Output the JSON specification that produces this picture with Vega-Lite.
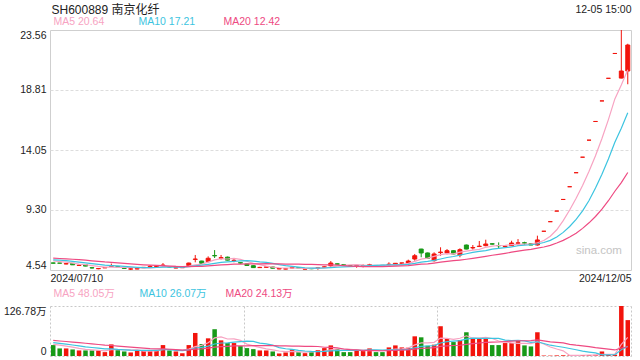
{
"$schema": "https://vega.github.io/schema/vega-lite/v6.json",
"padding": {"left": 3, "top": 2, "right": 5, "bottom": 5},
"bounds": "flush",
"spacing": 36,
"config": {"font": "Liberation Sans, Noto Sans CJK SC", "view": {"stroke": null}},
"resolve": {"scale": {"color": "independent", "x": "independent", "y": "independent"}, "legend": {"color": "independent"}},
"datasets": {"k": [
{"i":0,"o":5.10,"h":5.12,"l":5.06,"c":5.08,"v":27.7,"m5":5.26,"m10":5.35,"m20":5.48,"n5":29.54,"n10":33.77,"n20":39.39},
{"i":1,"o":5.09,"h":5.10,"l":5.07,"c":5.08,"v":19.2,"m5":5.21,"m10":5.32,"m20":5.45,"n5":27.38,"n10":31.89,"n20":38.10},
{"i":2,"o":5.02,"h":5.09,"l":4.99,"c":5.04,"v":19.2,"m5":5.16,"m10":5.28,"m20":5.42,"n5":25.22,"n10":30.01,"n20":36.81},
{"i":3,"o":5.07,"h":5.08,"l":4.94,"c":4.95,"v":16.6,"m5":5.09,"m10":5.23,"m20":5.39,"n5":22.54,"n10":27.87,"n20":35.39},
{"i":4,"o":4.90,"h":4.98,"l":4.87,"c":4.92,"v":14.1,"m5":5.01,"m10":5.17,"m20":5.36,"n5":19.36,"n10":25.48,"n20":33.84},
{"i":5,"o":4.96,"h":4.97,"l":4.84,"c":4.85,"v":14.1,"m5":4.97,"m10":5.11,"m20":5.32,"n5":16.64,"n10":23.09,"n20":32.30},
{"i":6,"o":4.72,"h":4.77,"l":4.66,"c":4.70,"v":14.1,"m5":4.89,"m10":5.05,"m20":5.27,"n5":15.62,"n10":21.50,"n20":30.75},
{"i":7,"o":4.64,"h":4.70,"l":4.60,"c":4.66,"v":14.1,"m5":4.82,"m10":4.99,"m20":5.23,"n5":14.60,"n10":19.91,"n20":29.21},
{"i":8,"o":4.71,"h":4.74,"l":4.70,"c":4.73,"v":9.8,"m5":4.77,"m10":4.93,"m20":5.18,"n5":13.24,"n10":17.89,"n20":27.45},
{"i":9,"o":4.83,"h":5.05,"l":4.80,"c":4.88,"v":29.4,"m5":4.76,"m10":4.89,"m20":5.15,"n5":16.30,"n10":17.83,"n20":26.67},
{"i":10,"o":4.80,"h":4.82,"l":4.75,"c":4.78,"v":14.9,"m5":4.75,"m10":4.86,"m20":5.11,"n5":16.46,"n10":16.55,"n20":25.16},
{"i":11,"o":4.69,"h":4.72,"l":4.63,"c":4.67,"v":11.5,"m5":4.74,"m10":4.82,"m20":5.07,"n5":15.94,"n10":15.78,"n20":23.84},
{"i":12,"o":4.61,"h":4.67,"l":4.54,"c":4.63,"v":9.0,"m5":4.74,"m10":4.78,"m20":5.03,"n5":14.92,"n10":14.76,"n20":22.39},
{"i":13,"o":4.62,"h":4.68,"l":4.60,"c":4.65,"v":14.1,"m5":4.72,"m10":4.75,"m20":4.99,"n5":15.78,"n10":14.51,"n20":21.19},
{"i":14,"o":4.72,"h":4.77,"l":4.70,"c":4.75,"v":13.2,"m5":4.70,"m10":4.73,"m20":4.95,"n5":12.54,"n10":14.42,"n20":19.95},
{"i":15,"o":4.80,"h":4.93,"l":4.78,"c":4.83,"v":14.1,"m5":4.71,"m10":4.73,"m20":4.92,"n5":12.38,"n10":14.42,"n20":18.76},
{"i":16,"o":4.81,"h":4.86,"l":4.79,"c":4.84,"v":15.0,"m5":4.74,"m10":4.74,"m20":4.90,"n5":13.08,"n10":14.51,"n20":18.01},
{"i":17,"o":4.90,"h":5.09,"l":4.80,"c":4.93,"v":27.7,"m5":4.80,"m10":4.77,"m20":4.88,"n5":16.82,"n10":15.87,"n20":17.89},
{"i":18,"o":4.80,"h":4.82,"l":4.76,"c":4.78,"v":14.1,"m5":4.83,"m10":4.77,"m20":4.85,"n5":16.82,"n10":16.30,"n20":17.10},
{"i":19,"o":4.70,"h":4.74,"l":4.68,"c":4.72,"v":11.5,"m5":4.82,"m10":4.76,"m20":4.82,"n5":16.48,"n10":14.51,"n20":16.17},
{"i":20,"o":4.72,"h":4.76,"l":4.70,"c":4.74,"v":7.0,"m5":4.80,"m10":4.75,"m20":4.81,"n5":15.06,"n10":13.72,"n20":15.14},
{"i":21,"o":4.88,"h":5.12,"l":4.85,"c":5.09,"v":27.7,"m5":4.85,"m10":4.80,"m20":4.81,"n5":17.60,"n10":15.34,"n20":15.56},
{"i":22,"o":5.38,"h":5.73,"l":5.15,"c":5.41,"v":58.4,"m5":4.95,"m10":4.87,"m20":4.83,"n5":23.74,"n10":20.28,"n20":17.52},
{"i":23,"o":5.25,"h":5.27,"l":5.05,"c":5.07,"v":30.3,"m5":5.01,"m10":4.92,"m20":4.83,"n5":26.98,"n10":21.90,"n20":18.21},
{"i":24,"o":5.20,"h":5.62,"l":5.15,"c":5.47,"v":44.8,"m5":5.16,"m10":4.99,"m20":4.86,"n5":33.64,"n10":25.06,"n20":19.74},
{"i":25,"o":5.69,"h":6.12,"l":5.49,"c":5.66,"v":67.9,"m5":5.34,"m10":5.07,"m20":4.90,"n5":45.82,"n10":30.44,"n20":22.43},
{"i":26,"o":5.47,"h":5.73,"l":5.36,"c":5.52,"v":39.7,"m5":5.43,"m10":5.14,"m20":4.94,"n5":48.22,"n10":32.91,"n20":23.71},
{"i":27,"o":5.56,"h":5.60,"l":5.30,"c":5.32,"v":32.8,"m5":5.41,"m10":5.18,"m20":4.97,"n5":43.10,"n10":33.42,"n20":24.65},
{"i":28,"o":5.28,"h":5.41,"l":5.15,"c":5.31,"v":32.8,"m5":5.46,"m10":5.23,"m20":5.00,"n5":43.60,"n10":35.29,"n20":25.80},
{"i":29,"o":5.12,"h":5.15,"l":5.04,"c":5.09,"v":25.1,"m5":5.38,"m10":5.27,"m20":5.01,"n5":39.66,"n10":36.65,"n20":25.58},
{"i":30,"o":5.01,"h":5.03,"l":4.88,"c":4.90,"v":20.0,"m5":5.23,"m10":5.28,"m20":5.02,"n5":30.08,"n10":37.95,"n20":25.84},
{"i":31,"o":4.88,"h":4.90,"l":4.71,"c":4.73,"v":17.4,"m5":5.07,"m10":5.25,"m20":5.02,"n5":25.62,"n10":36.92,"n20":26.13},
{"i":32,"o":4.73,"h":4.79,"l":4.70,"c":4.75,"v":14.1,"m5":4.96,"m10":5.18,"m20":5.03,"n5":21.88,"n10":32.49,"n20":26.39},
{"i":33,"o":4.76,"h":4.79,"l":4.75,"c":4.78,"v":14.1,"m5":4.85,"m10":5.15,"m20":5.04,"n5":18.14,"n10":30.87,"n20":26.39},
{"i":34,"o":4.78,"h":4.80,"l":4.66,"c":4.68,"v":11.5,"m5":4.77,"m10":5.07,"m20":5.03,"n5":15.42,"n10":27.54,"n20":26.30},
{"i":35,"o":4.62,"h":4.68,"l":4.60,"c":4.66,"v":6.4,"m5":4.72,"m10":4.97,"m20":5.02,"n5":12.70,"n10":21.39,"n20":25.92},
{"i":36,"o":4.62,"h":4.66,"l":4.60,"c":4.63,"v":9.0,"m5":4.70,"m10":4.89,"m20":5.01,"n5":11.02,"n10":18.32,"n20":25.62},
{"i":37,"o":4.70,"h":4.74,"l":4.68,"c":4.73,"v":16.6,"m5":4.70,"m10":4.83,"m20":5.00,"n5":11.52,"n10":16.70,"n20":25.06},
{"i":38,"o":4.72,"h":4.74,"l":4.70,"c":4.71,"v":9.8,"m5":4.68,"m10":4.77,"m20":5.00,"n5":10.66,"n10":14.40,"n20":24.85},
{"i":39,"o":4.61,"h":4.65,"l":4.58,"c":4.63,"v":7.2,"m5":4.67,"m10":4.72,"m20":4.99,"n5":9.80,"n10":12.61,"n20":24.63},
{"i":40,"o":4.66,"h":4.69,"l":4.61,"c":4.64,"v":9.8,"m5":4.67,"m10":4.69,"m20":4.99,"n5":10.48,"n10":11.59,"n20":24.77},
{"i":41,"o":4.70,"h":4.78,"l":4.56,"c":4.72,"v":14.9,"m5":4.69,"m10":4.69,"m20":4.97,"n5":11.66,"n10":11.34,"n20":24.13},
{"i":42,"o":4.76,"h":4.82,"l":4.74,"c":4.79,"v":20.0,"m5":4.70,"m10":4.70,"m20":4.94,"n5":12.34,"n10":11.93,"n20":22.21},
{"i":43,"o":4.88,"h":5.25,"l":4.78,"c":5.09,"v":26.9,"m5":4.77,"m10":4.73,"m20":4.94,"n5":15.76,"n10":13.21,"n20":22.04},
{"i":44,"o":5.03,"h":5.05,"l":4.98,"c":5.00,"v":17.4,"m5":4.85,"m10":4.76,"m20":4.92,"n5":17.80,"n10":13.80,"n20":20.67},
{"i":45,"o":4.96,"h":4.97,"l":4.90,"c":4.95,"v":9.8,"m5":4.91,"m10":4.79,"m20":4.88,"n5":17.80,"n10":14.14,"n20":17.77},
{"i":46,"o":4.89,"h":4.91,"l":4.86,"c":4.88,"v":9.8,"m5":4.94,"m10":4.81,"m20":4.85,"n5":16.78,"n10":14.22,"n20":16.27},
{"i":47,"o":4.87,"h":4.98,"l":4.72,"c":4.89,"v":14.9,"m5":4.96,"m10":4.83,"m20":4.83,"n5":15.76,"n10":14.05,"n20":15.38},
{"i":48,"o":4.88,"h":4.98,"l":4.75,"c":4.90,"v":14.9,"m5":4.92,"m10":4.85,"m20":4.81,"n5":13.36,"n10":14.56,"n20":14.48},
{"i":49,"o":4.92,"h":5.03,"l":4.88,"c":4.95,"v":19.2,"m5":4.91,"m10":4.88,"m20":4.80,"n5":13.72,"n10":15.76,"n20":14.19},
{"i":50,"o":4.90,"h":4.92,"l":4.86,"c":4.88,"v":9.8,"m5":4.90,"m10":4.91,"m20":4.80,"n5":13.72,"n10":15.76,"n20":13.68},
{"i":51,"o":4.91,"h":4.92,"l":4.85,"c":4.89,"v":9.8,"m5":4.90,"m10":4.92,"m20":4.81,"n5":13.72,"n10":15.25,"n20":13.30},
{"i":52,"o":4.97,"h":5.15,"l":4.88,"c":5.00,"v":21.8,"m5":4.92,"m10":4.94,"m20":4.82,"n5":15.10,"n10":15.43,"n20":13.68},
{"i":53,"o":4.96,"h":5.09,"l":4.94,"c":5.07,"v":26.9,"m5":4.96,"m10":4.94,"m20":4.84,"n5":17.50,"n10":15.43,"n20":14.32},
{"i":54,"o":5.08,"h":5.11,"l":5.06,"c":5.10,"v":21.8,"m5":4.99,"m10":4.95,"m20":4.86,"n5":18.02,"n10":15.87,"n20":14.84},
{"i":55,"o":5.09,"h":5.36,"l":5.04,"c":5.25,"v":21.0,"m5":5.06,"m10":4.98,"m20":4.89,"n5":20.26,"n10":16.99,"n20":15.57},
{"i":56,"o":5.41,"h":5.81,"l":5.28,"c":5.67,"v":49.9,"m5":5.22,"m10":5.06,"m20":4.94,"n5":28.28,"n10":21.00,"n20":17.61},
{"i":57,"o":6.20,"h":6.22,"l":5.55,"c":5.89,"v":47.4,"m5":5.40,"m10":5.16,"m20":5.00,"n5":33.40,"n10":24.25,"n20":19.15},
{"i":58,"o":5.89,"h":5.92,"l":5.45,"c":5.47,"v":26.1,"m5":5.48,"m10":5.22,"m20":5.03,"n5":33.24,"n10":25.37,"n20":19.97},
{"i":59,"o":5.28,"h":5.94,"l":5.20,"c":5.81,"v":28.7,"m5":5.62,"m10":5.30,"m20":5.09,"n5":34.62,"n10":26.32,"n20":21.04},
{"i":60,"o":5.92,"h":6.34,"l":5.67,"c":5.96,"v":75.5,"m5":5.76,"m10":5.41,"m20":5.16,"n5":45.52,"n10":32.89,"n20":24.33},
{"i":61,"o":5.89,"h":6.20,"l":5.78,"c":6.07,"v":44.8,"m5":5.84,"m10":5.53,"m20":5.23,"n5":44.50,"n10":36.39,"n20":25.82},
{"i":62,"o":6.07,"h":6.10,"l":5.78,"c":5.81,"v":35.3,"m5":5.82,"m10":5.61,"m20":5.28,"n5":42.08,"n10":37.74,"n20":26.59},
{"i":63,"o":5.73,"h":6.26,"l":5.55,"c":6.15,"v":40.5,"m5":5.96,"m10":5.72,"m20":5.33,"n5":44.96,"n10":39.10,"n20":27.27},
{"i":64,"o":6.52,"h":6.55,"l":6.18,"c":6.20,"v":60.2,"m5":6.04,"m10":5.83,"m20":5.39,"n5":51.26,"n10":42.94,"n20":29.41},
{"i":65,"o":6.29,"h":6.52,"l":6.15,"c":6.32,"v":44.8,"m5":6.11,"m10":5.94,"m20":5.46,"n5":45.12,"n10":45.32,"n20":31.16},
{"i":66,"o":6.40,"h":6.84,"l":6.36,"c":6.43,"v":44.8,"m5":6.18,"m10":6.01,"m20":5.54,"n5":45.12,"n10":44.81,"n20":32.91},
{"i":67,"o":6.47,"h":6.94,"l":6.42,"c":6.60,"v":44.8,"m5":6.34,"m10":6.08,"m20":5.62,"n5":47.02,"n10":44.55,"n20":34.40},
{"i":68,"o":6.62,"h":6.65,"l":6.55,"c":6.59,"v":27.7,"m5":6.43,"m10":6.19,"m20":5.71,"n5":44.46,"n10":44.71,"n20":35.04},
{"i":69,"o":6.48,"h":6.73,"l":6.26,"c":6.46,"v":27.7,"m5":6.48,"m10":6.26,"m20":5.78,"n5":37.96,"n10":44.61,"n20":35.47},
{"i":70,"o":6.40,"h":6.47,"l":6.36,"c":6.43,"v":32.8,"m5":6.50,"m10":6.31,"m20":5.86,"n5":35.56,"n10":40.34,"n20":36.62},
{"i":71,"o":6.47,"h":6.86,"l":6.45,"c":6.68,"v":32.8,"m5":6.55,"m10":6.37,"m20":5.95,"n5":33.16,"n10":39.14,"n20":37.77},
{"i":72,"o":6.66,"h":6.99,"l":6.47,"c":6.69,"v":38.9,"m5":6.57,"m10":6.46,"m20":6.03,"n5":31.98,"n10":39.50,"n20":38.62},
{"i":73,"o":6.70,"h":6.78,"l":6.52,"c":6.67,"v":26.9,"m5":6.59,"m10":6.51,"m20":6.11,"n5":31.82,"n10":38.14,"n20":38.62},
{"i":74,"o":6.63,"h":6.65,"l":6.50,"c":6.52,"v":24.3,"m5":6.60,"m10":6.54,"m20":6.18,"n5":31.14,"n10":34.55,"n20":38.75},
{"i":75,"o":6.52,"h":7.26,"l":6.47,"c":6.92,"v":60.2,"m5":6.70,"m10":6.60,"m20":6.27,"n5":36.62,"n10":36.09,"n20":40.71},
{"i":76,"o":7.61,"h":7.61,"l":7.61,"c":7.61,"v":1.2,"m5":6.88,"m10":6.72,"m20":6.36,"n5":30.30,"n10":31.73,"n20":38.27},
{"i":77,"o":8.37,"h":8.37,"l":8.37,"c":8.37,"v":1.0,"m5":7.22,"m10":6.89,"m20":6.49,"n5":22.72,"n10":27.35,"n20":35.95},
{"i":78,"o":9.21,"h":9.21,"l":9.21,"c":9.21,"v":1.5,"m5":7.73,"m10":7.16,"m20":6.68,"n5":17.64,"n10":24.73,"n20":34.72},
{"i":79,"o":10.13,"h":10.13,"l":10.13,"c":10.13,"v":1.8,"m5":8.45,"m10":7.52,"m20":6.89,"n5":13.14,"n10":22.14,"n20":33.38},
{"i":80,"o":11.14,"h":11.14,"l":11.14,"c":11.14,"v":1.5,"m5":9.29,"m10":7.99,"m20":7.15,"n5":1.40,"n10":19.01,"n20":29.68},
{"i":81,"o":12.25,"h":12.25,"l":12.25,"c":12.25,"v":2.0,"m5":10.22,"m10":8.55,"m20":7.46,"n5":1.56,"n10":15.93,"n20":27.54},
{"i":82,"o":13.48,"h":13.48,"l":13.48,"c":13.48,"v":2.5,"m5":11.24,"m10":9.23,"m20":7.84,"n5":1.86,"n10":12.29,"n20":25.90},
{"i":83,"o":14.83,"h":14.83,"l":14.83,"c":14.83,"v":2.5,"m5":12.37,"m10":10.05,"m20":8.28,"n5":2.06,"n10":9.85,"n20":24.00},
{"i":84,"o":16.31,"h":16.31,"l":16.31,"c":16.31,"v":3.0,"m5":13.60,"m10":11.03,"m20":8.78,"n5":2.30,"n10":7.72,"n20":21.14},
{"i":85,"o":17.94,"h":17.94,"l":17.94,"c":17.94,"v":11.5,"m5":14.96,"m10":12.13,"m20":9.36,"n5":4.30,"n10":2.85,"n20":19.47},
{"i":86,"o":19.73,"h":19.73,"l":19.73,"c":19.73,"v":3.0,"m5":16.46,"m10":13.34,"m20":10.03,"n5":4.50,"n10":3.03,"n20":17.38},
{"i":87,"o":21.70,"h":21.70,"l":21.70,"c":21.70,"v":3.5,"m5":18.10,"m10":14.67,"m20":10.78,"n5":4.70,"n10":3.28,"n20":15.32},
{"i":88,"o":19.75,"h":23.56,"l":19.73,"c":20.31,"v":126.78,"m5":19.20,"m10":15.78,"m20":11.47,"n5":29.56,"n10":15.81,"n20":20.27},
{"i":89,"o":20.31,"h":22.47,"l":19.26,"c":22.37,"v":91.0,"m5":20.41,"m10":17.01,"m20":12.27,"n5":47.16,"n10":24.73,"n20":23.43}
]},
"vconcat": [
{
"width": 581, "height": 240,
"data": {"name": "k"},
"view": {"stroke": "#cfcfcf", "strokeWidth": 1},
"encoding": {
  "x": {"field": "i", "type": "quantitative", "scale": {"domain": [-0.5, 89.5], "nice": false, "zero": false, "padding": 0},
    "axis": {"values": [-0.5, 89.5], "labelExpr": "datum.value < 0 ? '2024/07/10' : '2024/12/05'", "labelFlush": true, "ticks": false, "domain": false, "grid": false, "labelPadding": 3, "labelFontSize": 10.5, "labelColor": "#222",
      "title": "12-05 15:00", "titleX": 581, "titleY": -261, "titleAlign": "right", "titleBaseline": "middle", "titleFontSize": 10.5, "titleFontWeight": "normal", "titleColor": "#222"}}
},
"layer": [
  {"transform": [{"filter": "datum.i == 85"}],
   "mark": {"type": "text", "text": "sina.com", "color": "#c4c4c4", "fontSize": 11.5, "dx": -3},
   "encoding": {"y": {"datum": 6.05, "type": "quantitative"}}},
  {"mark": {"type": "rule", "strokeWidth": 1},
   "encoding": {
     "y": {"field": "l", "type": "quantitative", "scale": {"domain": [4.54, 23.56], "nice": false, "zero": false},
       "axis": {"values": [4.54, 9.30, 14.05, 18.81, 23.56], "format": ".2f", "labelFlush": true, "ticks": false, "domain": false, "grid": true, "gridDash": [3, 2], "gridColor": "#dddddd",
         "gridOpacity": {"condition": {"test": "datum.value < 5 || datum.value > 23", "value": 0}, "value": 1},
         "labelPadding": 4, "labelFontSize": 10.5, "labelColor": "#222",
         "title": "SH600889 南京化纤", "titleX": 1, "titleY": -21, "titleAngle": 0, "titleAlign": "left", "titleBaseline": "middle", "titleFontSize": 12, "titleFontWeight": "normal", "titleColor": "#222"}},
     "y2": {"field": "h"},
     "color": {"condition": {"test": "datum.c >= datum.o", "value": "#f2140c"}, "value": "#179917"}
   }},
  {"mark": {"type": "bar", "size": 4, "strokeWidth": 1},
   "encoding": {
     "y": {"field": "o", "type": "quantitative"},
     "y2": {"field": "c"},
     "color": {"condition": {"test": "datum.c >= datum.o", "value": "#f2140c"}, "value": "#179917"},
     "stroke": {"condition": {"test": "datum.c >= datum.o", "value": "#f2140c"}, "value": "#179917"}
   }},
  {"mark": {"type": "line", "strokeWidth": 1.2},
   "encoding": {"y": {"field": "m5", "type": "quantitative"},
     "color": {"datum": "MA5 20.64", "type": "nominal",
       "scale": {"domain": ["MA5 20.64", "MA10 17.21", "MA20 12.42"], "range": ["#f7a3c2", "#3cc4e0", "#ee4a82"]},
       "legend": {"orient": "none", "legendX": -7, "legendY": -13, "direction": "horizontal", "title": null, "symbolSize": 0, "symbolStrokeWidth": 0, "symbolOpacity": 0, "labelOffset": 0, "columnPadding": 17, "gridAlign": "all", "labelFontSize": 10.5,
         "labelColor": {"expr": "indexof(datum.label, 'MA5 ') == 0 ? '#f7a3c2' : (indexof(datum.label, 'MA10') == 0 ? '#3cc4e0' : '#ee4a82')"}}}}},
  {"mark": {"type": "line", "strokeWidth": 1.2},
   "encoding": {"y": {"field": "m10", "type": "quantitative"}, "color": {"datum": "MA10 17.21", "type": "nominal"}}},
  {"mark": {"type": "line", "strokeWidth": 1.2},
   "encoding": {"y": {"field": "m20", "type": "quantitative"}, "color": {"datum": "MA20 12.42", "type": "nominal"}}}
]
},
{
"width": 581, "height": 50,
"data": {"name": "k"},
"encoding": {
  "x": {"field": "i", "type": "quantitative", "scale": {"domain": [-0.5, 89.5], "nice": false, "zero": false, "padding": 0},
    "axis": {"values": [-0.5, 29.5, 59.5, 89.5], "labels": false, "ticks": false, "domain": false, "grid": true, "gridDash": [2, 2], "gridColor": "#c8c8c8", "title": null}}
},
"layer": [
  {"mark": {"type": "bar", "size": 4.5},
   "encoding": {
     "y": {"field": "v", "type": "quantitative", "scale": {"domain": [0, 126.78], "nice": false},
       "axis": {"values": [0, 126.78], "labelExpr": "datum.value == 0 ? '0' : '126.78万'", "labelFlush": true, "ticks": false, "domain": false, "grid": true, "gridDash": [2, 2], "gridColor": "#c8c8c8", "labelPadding": 4, "labelFontSize": 10.5, "labelColor": "#222", "title": null}},
     "color": {"condition": {"test": "datum.c >= datum.o", "value": "#f2140c"}, "value": "#179917"}
   }},
  {"mark": {"type": "line", "strokeWidth": 1.2},
   "encoding": {"y": {"field": "n5", "type": "quantitative"},
     "color": {"datum": "MA5 48.05万", "type": "nominal",
       "scale": {"domain": ["MA5 48.05万", "MA10 26.07万", "MA20 24.13万"], "range": ["#f7a3c2", "#3cc4e0", "#ee4a82"]},
       "legend": {"orient": "none", "legendX": -7, "legendY": -17, "direction": "horizontal", "title": null, "symbolSize": 0, "symbolStrokeWidth": 0, "symbolOpacity": 0, "labelOffset": 0, "columnPadding": 8, "gridAlign": "all", "labelFontSize": 10.5,
         "labelColor": {"expr": "indexof(datum.label, 'MA5 ') == 0 ? '#f7a3c2' : (indexof(datum.label, 'MA10') == 0 ? '#3cc4e0' : '#ee4a82')"}}}}},
  {"mark": {"type": "line", "strokeWidth": 1.2},
   "encoding": {"y": {"field": "n10", "type": "quantitative"}, "color": {"datum": "MA10 26.07万", "type": "nominal"}}},
  {"mark": {"type": "line", "strokeWidth": 1.2},
   "encoding": {"y": {"field": "n20", "type": "quantitative"}, "color": {"datum": "MA20 24.13万", "type": "nominal"}}}
]
}
]
}
